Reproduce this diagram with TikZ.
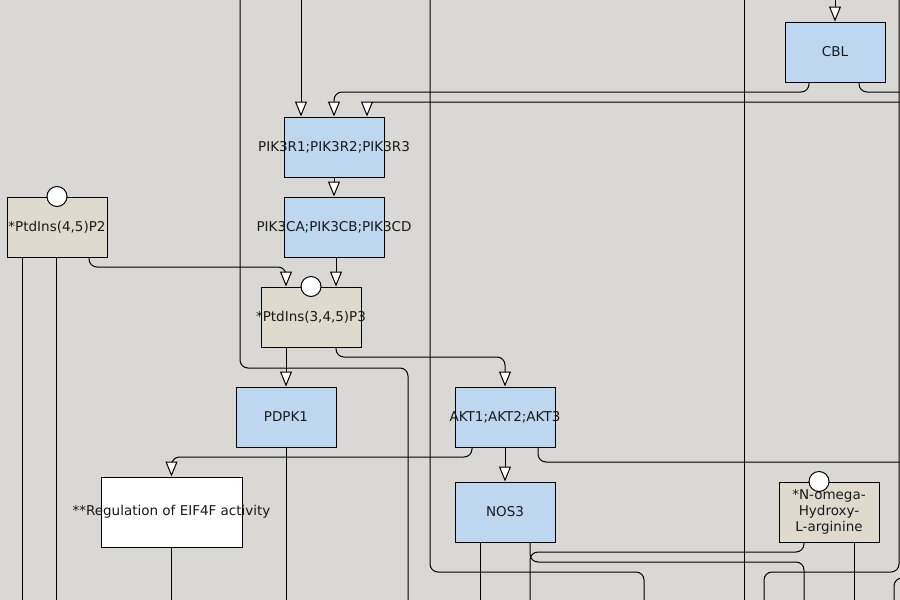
\documentclass[tikz,border=0pt]{standalone}
\usepackage{fontspec}
\setmainfont{DejaVu Sans}
\usetikzlibrary{arrows.meta}
\definecolor{bg}{RGB}{217,216,212}
\definecolor{genefill}{RGB}{189,215,240}
\definecolor{molfill}{RGB}{222,218,206}
\begin{document}
\begin{tikzpicture}[x=1pt,y=-1pt,line width=1pt,
  gene/.style={draw,fill=genefill,minimum width=100pt,minimum height=60pt,inner sep=0pt},
  mol/.style={draw,fill=molfill,minimum width=100pt,minimum height=60pt,inner sep=0pt},
  pheno/.style={draw,fill=white,minimum width=141pt,minimum height=70pt,inner sep=0pt},
  txt/.style={font=\fontsize{13.5}{16}\selectfont,text=black!90,align=center,inner sep=0pt},
  arr/.style={-{Triangle[width=12pt,length=15pt,fill=white]}},
  wire/.style={rounded corners=8pt},
  statecirc/.style={circle,draw,fill=white,minimum size=20pt,inner sep=0pt}]
\useasboundingbox (0,0) rectangle (900,600);
\fill[bg] (0,0) rectangle (900,600);
\clip (0,0) rectangle (900,600);

% free coordinates
\coordinate (t301) at (301,0);
\coordinate (t835) at (835,0);
\coordinate (r92) at (899,92);
\coordinate (r102) at (899,102);
\coordinate (r462) at (899,462);
\coordinate (b530) at (530,600);
\coordinate (b804) at (804,600);

% background wires
\draw[wire] (240,0) -- (240,368) -- (408,368) -- (408,600);
\draw[wire] (430,0) -- (430,572) -- (644,572) -- (644,600);
\draw (744,0) -- (744,600);
\draw[wire] (899,0) -- (899,572) -- (764,572) -- (764,600);
\draw[wire] (894,600) -- (894,578) -- (910,578);

% nodes
\node[gene] (cbl) at (835,52) {};
\node[txt] (cbl-t) at (cbl) {CBL};
\node[gene] (pik3r) at (334,147) {};
\node[txt] (pik3r-t) at (pik3r) {PIK3R1;PIK3R2;PIK3R3};
\node[gene] (pik3ca) at (334,227) {};
\node[txt] (pik3ca-t) at (pik3ca) {PIK3CA;PIK3CB;PIK3CD};
\node[mol] (p45) at (57,227) {};
\node[txt] (p45-t) at (p45) {*PtdIns(4,5)P2};
\node[mol] (p345) at (311,317) {};
\node[txt] (p345-t) at (p345) {*PtdIns(3,4,5)P3};
\node[gene] (pdpk1) at (286,417) {};
\node[txt] (pdpk1-t) at (pdpk1) {PDPK1};
\node[gene] (akt) at (505,417) {};
\node[txt] (akt-t) at (akt) {AKT1;AKT2;AKT3};
\node[gene] (nos3) at (505,512) {};
\node[txt] (nos3-t) at (nos3) {NOS3};
\node[pheno] (reg) at (171.5,512) {};
\node[txt] (reg-t) at (reg) {**Regulation of EIF4F activity};
\node[mol] (nomega) at (829,512) {};
\node[txt] (nomega-t) at (nomega) {*N-omega-\\Hydroxy-\\L-arginine};

% connectors
\draw[arr] (t835) -- (cbl.north);
\draw[arr] (t301) -- (pik3r.north -| t301);
\draw[arr,wire] ([xshift=-26pt]cbl.south) |- (334,92) -- (pik3r.north);
\draw[wire] ([xshift=24pt]cbl.south) |- (r92);
\draw[arr,wire] (r102) -| ([xshift=33pt]pik3r.north);
\draw[arr] (pik3r.south) -- (pik3ca.north);
\draw[arr] ([xshift=2pt]pik3ca.south) -- ([xshift=25pt]p345.north);
\draw[arr,wire] ([xshift=32pt]p45.south) |- (286,267) -- ([xshift=-25pt]p345.north);
\draw[arr] ([xshift=-25pt]p345.south) -- (pdpk1.north);
\draw[arr,wire] ([xshift=25pt]p345.south) |- (505,357) -- (akt.north);
\draw[arr] (akt.south) -- (nos3.north);
\draw[arr,wire] ([xshift=-33pt]akt.south) |- (171.5,457) -- (reg.north);
\draw[wire] ([xshift=33pt]akt.south) |- (r462);
\draw ([xshift=-25pt]nos3.south) -- ++(0,60);
\draw[wire] ([xshift=-25pt]nomega.south) |- (530,552) -- (b530);
\draw[wire] ([xshift=25pt]nos3.south) |- (804,562) -- (b804);
\draw ([xshift=25pt]nomega.south) -- ++(0,60);
\draw (reg.south) -- ++(0,60);
\draw (pdpk1.south) -- ++(0,160);
\draw ([xshift=-35pt]p45.south) -- ++(0,350);
\draw ([xshift=-1pt]p45.south) -- ++(0,350);

% state circles
\node[statecirc] (p45-c) at (p45.north) {};
\node[statecirc] (p345-c) at (p345.north) {};
\node[statecirc] (nomega-c) at ([xshift=-10pt]nomega.north) {};
\end{tikzpicture}
\end{document}
